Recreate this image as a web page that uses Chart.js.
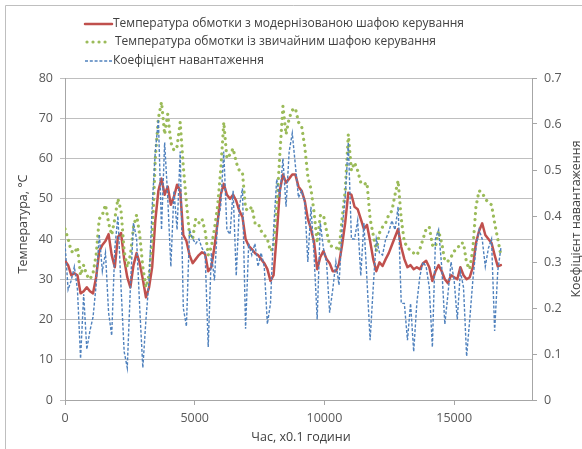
<!DOCTYPE html>
<html>
<head>
<meta charset="utf-8">
<script src="https://cdn.jsdelivr.net/npm/chart.js@4.4.1/dist/chart.umd.min.js"></script>
<style>
  html, body { margin: 0; padding: 0; background: #fff; }
  canvas { display: block; }
</style>
</head>
<body>
<canvas id="chart" width="582" height="449"></canvas>
<script>
// sampling step of the time axis, in 0.1 h
const timeStep = 120;

// winding temperature with the modernised control cabinet, °C
const tempModern = [
  34.6, 33.5, 31, 31.5, 31, 26.5, 27, 28, 27, 26.5,
  30.5, 37, 38.5, 39.5, 41.2, 36, 33, 40.5, 41.5, 35,
  30.5, 28, 33.5, 36.5, 34, 30, 25.5, 28, 33, 44.5,
  52, 55, 51, 53, 48.5, 50.5, 53.5, 52, 41, 39.5,
  36, 34, 35, 36, 36.7, 36.3, 32, 33, 38, 44,
  51, 53.7, 51, 50, 51, 49.5, 47, 45.5, 40, 38.3,
  37.5, 36.5, 36, 35, 34, 32.5, 29.6, 31, 41, 52,
  56, 54, 55, 56, 56, 53, 52, 49.5, 45, 42.5,
  39.2, 32.5, 35.5, 37, 35, 34, 32, 32, 33.8, 38.5,
  44, 51.5, 51, 48, 47.4, 45, 42.5, 43.5, 39.5, 35,
  32, 34.2, 33.3, 35, 36.5, 38.5, 40.5, 42.5, 38, 35,
  33, 33.5, 32.5, 33, 32.5, 34, 34.6, 33, 29.6, 32,
  33.5, 32, 30, 29, 31, 30.5, 30, 33, 31, 30,
  30.5, 33, 39, 42, 43.9, 41, 40, 39, 36, 33.2,
  33.5
];

// winding temperature with the ordinary control cabinet, °C
const tempStandard = [
  42.5, 40, 37, 36.5, 38, 31, 33.5, 31, 30, 31.5,
  36, 45, 46, 48.5, 44, 41, 45, 50, 47, 37,
  33, 36, 43, 46, 41, 33, 28, 31, 40, 60,
  70, 74, 66, 71, 64, 62, 63, 69, 58, 49,
  41, 40, 45, 44, 45, 42, 36, 38, 42.5, 48,
  57, 69, 60, 61, 62.5, 59, 57, 56.5, 47.5, 47,
  48, 44, 44, 42, 41, 40, 37, 38, 48, 61,
  73, 66, 70, 72, 72.5, 69, 68, 63, 55.5, 52.4,
  46.6, 39, 45.8, 46, 42, 38.5, 38, 38, 37, 45,
  52, 66, 57, 59, 57, 54, 53.5, 54, 45, 41,
  37, 41.5, 43, 44, 46, 47, 51, 54.5, 45, 39.2,
  38, 37, 36.5, 36, 37.5, 40, 42.5, 43, 38.5, 38,
  42, 39, 34.5, 34.5, 35.5, 37, 37.5, 39, 39, 34,
  32.5, 37.5, 48, 52, 51.5, 50, 49, 48.5, 44, 40,
  36
];

// load factor (right axis)
const loadFactor = [
  0.34, 0.24, 0.26, 0.29, 0.24, 0.09, 0.23, 0.11, 0.15, 0.18,
  0.25, 0.36, 0.28, 0.32, 0.19, 0.14, 0.33, 0.40, 0.245, 0.105,
  0.07, 0.245, 0.385, 0.35, 0.20, 0.07, 0.175, 0.26, 0.42, 0.54,
  0.61, 0.37, 0.56, 0.44, 0.29, 0.455, 0.37, 0.54, 0.20, 0.16,
  0.37, 0.35, 0.34, 0.35, 0.33, 0.32, 0.115, 0.32, 0.26, 0.385,
  0.42, 0.54, 0.37, 0.36, 0.455, 0.27, 0.42, 0.46, 0.155, 0.34,
  0.315, 0.34, 0.29, 0.32, 0.29, 0.165, 0.21, 0.37, 0.48, 0.44,
  0.525, 0.42, 0.54, 0.58, 0.51, 0.44, 0.455, 0.43, 0.30, 0.42,
  0.315, 0.175, 0.385, 0.33, 0.30, 0.19, 0.24, 0.30, 0.25, 0.37,
  0.44, 0.56, 0.35, 0.35, 0.39, 0.27, 0.385, 0.26, 0.13, 0.245,
  0.35, 0.32, 0.315, 0.35, 0.365, 0.39, 0.37, 0.42, 0.21, 0.21,
  0.13, 0.21, 0.105, 0.21, 0.27, 0.30, 0.29, 0.245, 0.115, 0.35,
  0.37, 0.29, 0.165, 0.23, 0.30, 0.26, 0.175, 0.28, 0.245, 0.095,
  0.175, 0.26, 0.33, 0.37, 0.35, 0.29, 0.33, 0.35, 0.15, 0.28,
  0.33
];

const xTicks = [0, 5000, 10000, 15000];
const labels = [
  'Температура обмотки з модернізованою шафою керування',
  'Температура обмотки із звичайним шафою керування',
  'Коефіцієнт навантаження'
];

const FONT = '"Open Sans", "Noto Sans", sans-serif';
const toPoints = arr => arr.map((v, i) => ({ x: i * timeStep, y: v }));

// Excel-like legend stacked in the top-left area
const legendPlugin = {
  id: 'stackedLegend',
  afterDraw(chart) {
    const ctx = chart.ctx;
    const rowsY = [24, 42, 61];
    ctx.save();
    ctx.font = '12px ' + FONT;
    ctx.textBaseline = 'middle';
    chart.data.datasets.forEach((ds, i) => {
      const y = rowsY[i];
      ctx.beginPath();
      ctx.setLineDash(ds.borderDash || []);
      ctx.lineCap = ds.borderCapStyle || 'butt';
      ctx.lineWidth = ds.borderWidth;
      ctx.strokeStyle = ds.borderColor;
      ctx.moveTo(i === 1 ? 87 : 85, y);
      ctx.lineTo(i === 1 ? 108 : 112, y);
      ctx.stroke();
      ctx.setLineDash([]);
      ctx.fillStyle = '#404040';
      ctx.fillText(ds.label, i === 1 ? 115 : 113, y);
    });
    ctx.restore();
  }
};

// axis titles and the chart frame
const titlePlugin = {
  id: 'axisTitles',
  afterDraw(chart) {
    const ctx = chart.ctx;
    ctx.save();
    ctx.strokeStyle = '#bfbfbf';
    ctx.lineWidth = 1;
    ctx.beginPath();
    ctx.moveTo(5.5, 449);
    ctx.lineTo(5.5, 5.5);
    ctx.lineTo(582, 5.5);
    ctx.stroke();

    ctx.fillStyle = '#404040';
    ctx.font = '12.5px ' + FONT;
    ctx.textAlign = 'center';
    ctx.textBaseline = 'middle';
    ctx.fillText('Час, х0.1 години', 301, 437);

    ctx.save();
    ctx.translate(23, 224);
    ctx.rotate(-Math.PI / 2);
    ctx.fillText('Температура, °C', 0, 0);
    ctx.restore();

    ctx.save();
    ctx.translate(576, 219);
    ctx.rotate(-Math.PI / 2);
    ctx.fillText('Коефіцієнт навантаження', 0, 0);
    ctx.restore();
    ctx.restore();
  }
};

const tickFont = { family: FONT, size: 12.5 };
const axisGray = '#a6a6a6';

new Chart(document.getElementById('chart').getContext('2d'), {
  type: 'line',
  data: {
    datasets: [
      {
        label: labels[0],
        data: toPoints(tempModern),
        yAxisID: 'y',
        borderColor: '#C0504D',
        borderWidth: 2.5,
        borderCapStyle: 'round',
        borderJoinStyle: 'round',
        order: 2
      },
      {
        label: labels[1],
        data: toPoints(tempStandard),
        yAxisID: 'y',
        borderColor: '#9BBB59',
        borderWidth: 3.2,
        borderDash: [0.01, 6],
        borderCapStyle: 'round',
        order: 1
      },
      {
        label: labels[2],
        data: toPoints(loadFactor),
        yAxisID: 'y1',
        borderColor: '#4F81BD',
        borderWidth: 1.4,
        borderDash: [3, 1.8],
        order: 0
      }
    ]
  },
  options: {
    responsive: false,
    animation: false,
    layout: { padding: { top: 78, left: 0, right: 0, bottom: 0 } },
    elements: { point: { radius: 0 }, line: { tension: 0 } },
    plugins: { legend: { display: false }, tooltip: { enabled: false } },
    scales: {
      x: {
        type: 'linear',
        min: 0,
        max: 18000,
        afterBuildTicks: s => { s.ticks = xTicks.map(v => ({ value: v })); },
        afterFit: s => { s.height = 49; },
        grid: { drawOnChartArea: false, drawTicks: true, tickLength: 5, color: axisGray },
        border: { color: axisGray },
        ticks: { font: tickFont, color: '#595959', padding: 6, maxRotation: 0, callback: v => String(v) }
      },
      y: {
        position: 'left',
        min: 0,
        max: 80,
        afterFit: s => { s.width = 65; },
        grid: { color: '#bfbfbf', lineWidth: 1, tickLength: 5 },
        border: { color: axisGray },
        ticks: { stepSize: 10, font: tickFont, color: '#595959', padding: 7, callback: v => String(v) }
      },
      y1: {
        position: 'right',
        min: 0,
        max: 0.7,
        afterFit: s => { s.width = 50; },
        grid: { drawOnChartArea: false, color: axisGray, tickLength: 5 },
        border: { color: axisGray },
        ticks: { stepSize: 0.1, font: tickFont, color: '#595959', padding: 7,
                 callback: v => String(Math.round(v * 10) / 10) }
      }
    }
  },
  plugins: [legendPlugin, titlePlugin]
});
</script>
</body>
</html>
